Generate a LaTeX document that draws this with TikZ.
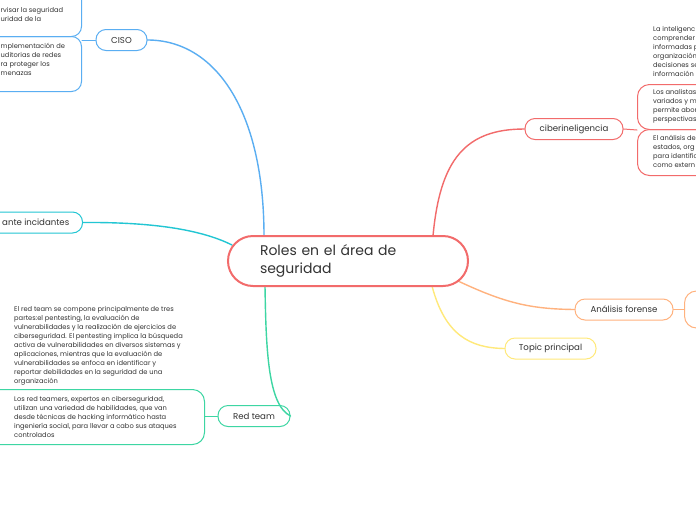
\documentclass[tikz,border=0pt]{standalone}
\usepackage{fontspec}
\setmainfont{Poppins}
\begin{document}
\begin{tikzpicture}[x=1pt,y=-1pt,
  line cap=round,
  txt/.style={anchor=north west,align=left,inner sep=0pt,text=ink,font=\fontsize{6.7}{9}\selectfont},
  topic/.style={draw,rounded corners=10pt,line width=1pt,fill=white,text=ink,font=\fontsize{8.6}{9}\selectfont,minimum height=21pt,inner sep=0pt},
  branch/.style={line width=1.4pt},
  sub/.style={line width=1pt}]
\definecolor{ink}{HTML}{333333}
\definecolor{cblue}{HTML}{5AAEF2}
\definecolor{ccyan}{HTML}{22C6D3}
\definecolor{cred}{HTML}{F26B6B}
\definecolor{cgreen}{HTML}{3DD6A3}
\definecolor{corange}{HTML}{FFB27E}
\definecolor{cyellow}{HTML}{FFE97A}
\useasboundingbox (0,0) rectangle (696,520);
\clip (0,0) rectangle (696,520);
\fill[white] (0,0) rectangle (696,520);

% ---------- connectors of the main branches ----------
\coordinate (rtop) at (264,236);
\coordinate (rleft) at (232,245);
\coordinate (rbot) at (265,286);
\coordinate (rtopr) at (433,236);
\coordinate (rright) at (458,281);
\coordinate (rbotr) at (432,286);

% nodes
\node[topic,draw=cblue,minimum width=51pt] (ciso) at (121.5,40) {CISO};
\node[topic,draw=ccyan,minimum width=113pt,anchor=east] (ante) at (83,222.5) {};
\node[anchor=west,inner sep=0pt,text=ink,font=\fontsize{8.6}{9}\selectfont] (antet) at (2,222.5) {ante incidantes};
\node[topic,draw=cgreen,minimum width=72pt] (red) at (254,416) {Red team};
\node[topic,draw=cred,minimum width=98pt] (ciber) at (574,129) {ciberineligencia};
\node[topic,draw=corange,minimum width=98pt] (foren) at (624,309.5) {Análisis forense};
\node[topic,draw=cyellow,minimum width=91pt] (topicp) at (550.5,348.5) {Topic principal};

\draw[branch,cblue] (ciso.east) .. controls (215,40) and (264,110) .. (rtop);
\draw[branch,ccyan] (ante.east) .. controls (150,222) and (200,229) .. (rleft);
\draw[branch,cgreen] (rbot) .. controls (266,350) and (268,405) .. (red.east);
\draw[branch,cred] (rtopr) .. controls (440,160) and (465,129) .. (ciber.west);
\draw[branch,corange] (rright) .. controls (505,303) and (530,309) .. (foren.west);
\draw[branch,cyellow] (rbotr) .. controls (445,335) and (470,348) .. (topicp.west);

% central node
\node[draw=cred,line width=2pt,fill=white,rounded corners=25pt,minimum width=240pt,minimum height=50pt,
      text width=176pt,align=left,inner sep=0pt,text=ink,font=\fontsize{14}{18}\selectfont] (root) at (348,261)
      {Roles en el área de\\seguridad};

% ---------- CISO children ----------
\node[sub,draw=cblue,rounded corners=10pt,minimum width=110pt,minimum height=48pt,anchor=north east] (cisoA) at (82,-12) {};
\node[sub,draw=cblue,rounded corners=10pt,minimum width=110pt,minimum height=55pt,anchor=north east] (cisoB) at (82,36) {};
\draw[sub,cblue] (ciso.west) -- (cisoB.east |- ciso.west);
\node[txt] (cisoAt) at (0.5,7.5) {rvisar la seguridad\\uridad de la};
\node[txt] (cisoBt) at (0.5,43.5) {mplementación de\\uditorias de redes\\ra proteger los\\menazas};

% ---------- Red team children ----------
\node[txt] (redA) at (14,306) {El red team se compone principalmente de tres\\partes:el pentesting, la evaluación de\\vulnerabilidades y la realización de ejercicios de\\ciberseguridad. El pentesting implica la búsqueda\\activa de vulnerabilidades en diversos sistemas y\\aplicaciones, mientras que la evaluación de\\vulnerabilidades se enfoca en identificar y\\reportar debilidades en la seguridad de una\\organización};
\node[sub,draw=cgreen,rounded corners=12pt,minimum width=230pt,minimum height=55pt,anchor=north east] (redB) at (205,389) {};
\draw[sub,cgreen] (red.west) -- (redB.east |- red.west);
\node[txt] (redBt) at (14,396.5) {Los red teamers, expertos en ciberseguridad,\\utilizan una variedad de habilidades, que van\\desde técnicas de hacking informático hasta\\ingeniería social, para llevar a cabo sus ataques\\controlados};

% ---------- ciberinteligencia children ----------
\node[txt] (ciA) at (653,26.5) {La inteligenc\\comprender\\informadas p\\organización\\decisiones se\\información};
\node[sub,draw=cred,rounded corners=12pt,minimum width=90pt,minimum height=45pt,anchor=north west] (ciB) at (637,84) {};
\node[sub,draw=cred,rounded corners=12pt,minimum width=90pt,minimum height=46pt,anchor=north west] (ciC) at (637,129) {};
\draw[sub,cred] (ciber.east) -- (ciB.south west);
\node[txt] (ciBt) at (653,89.5) {Los analistas\\variados y m\\permite abor\\perspectivas};
\node[txt] (ciCt) at (653,135.5) {El análisis de\\estados, org\\para identific\\como extern};

% ---------- Análisis forense child ----------
\node[sub,draw=corange,rounded corners=12pt,minimum width=70pt,minimum height=37pt,anchor=west] (foA) at (684,309.5) {};
\draw[sub,corange] (foren.east) -- (foA.west);
\end{tikzpicture}
\end{document}
